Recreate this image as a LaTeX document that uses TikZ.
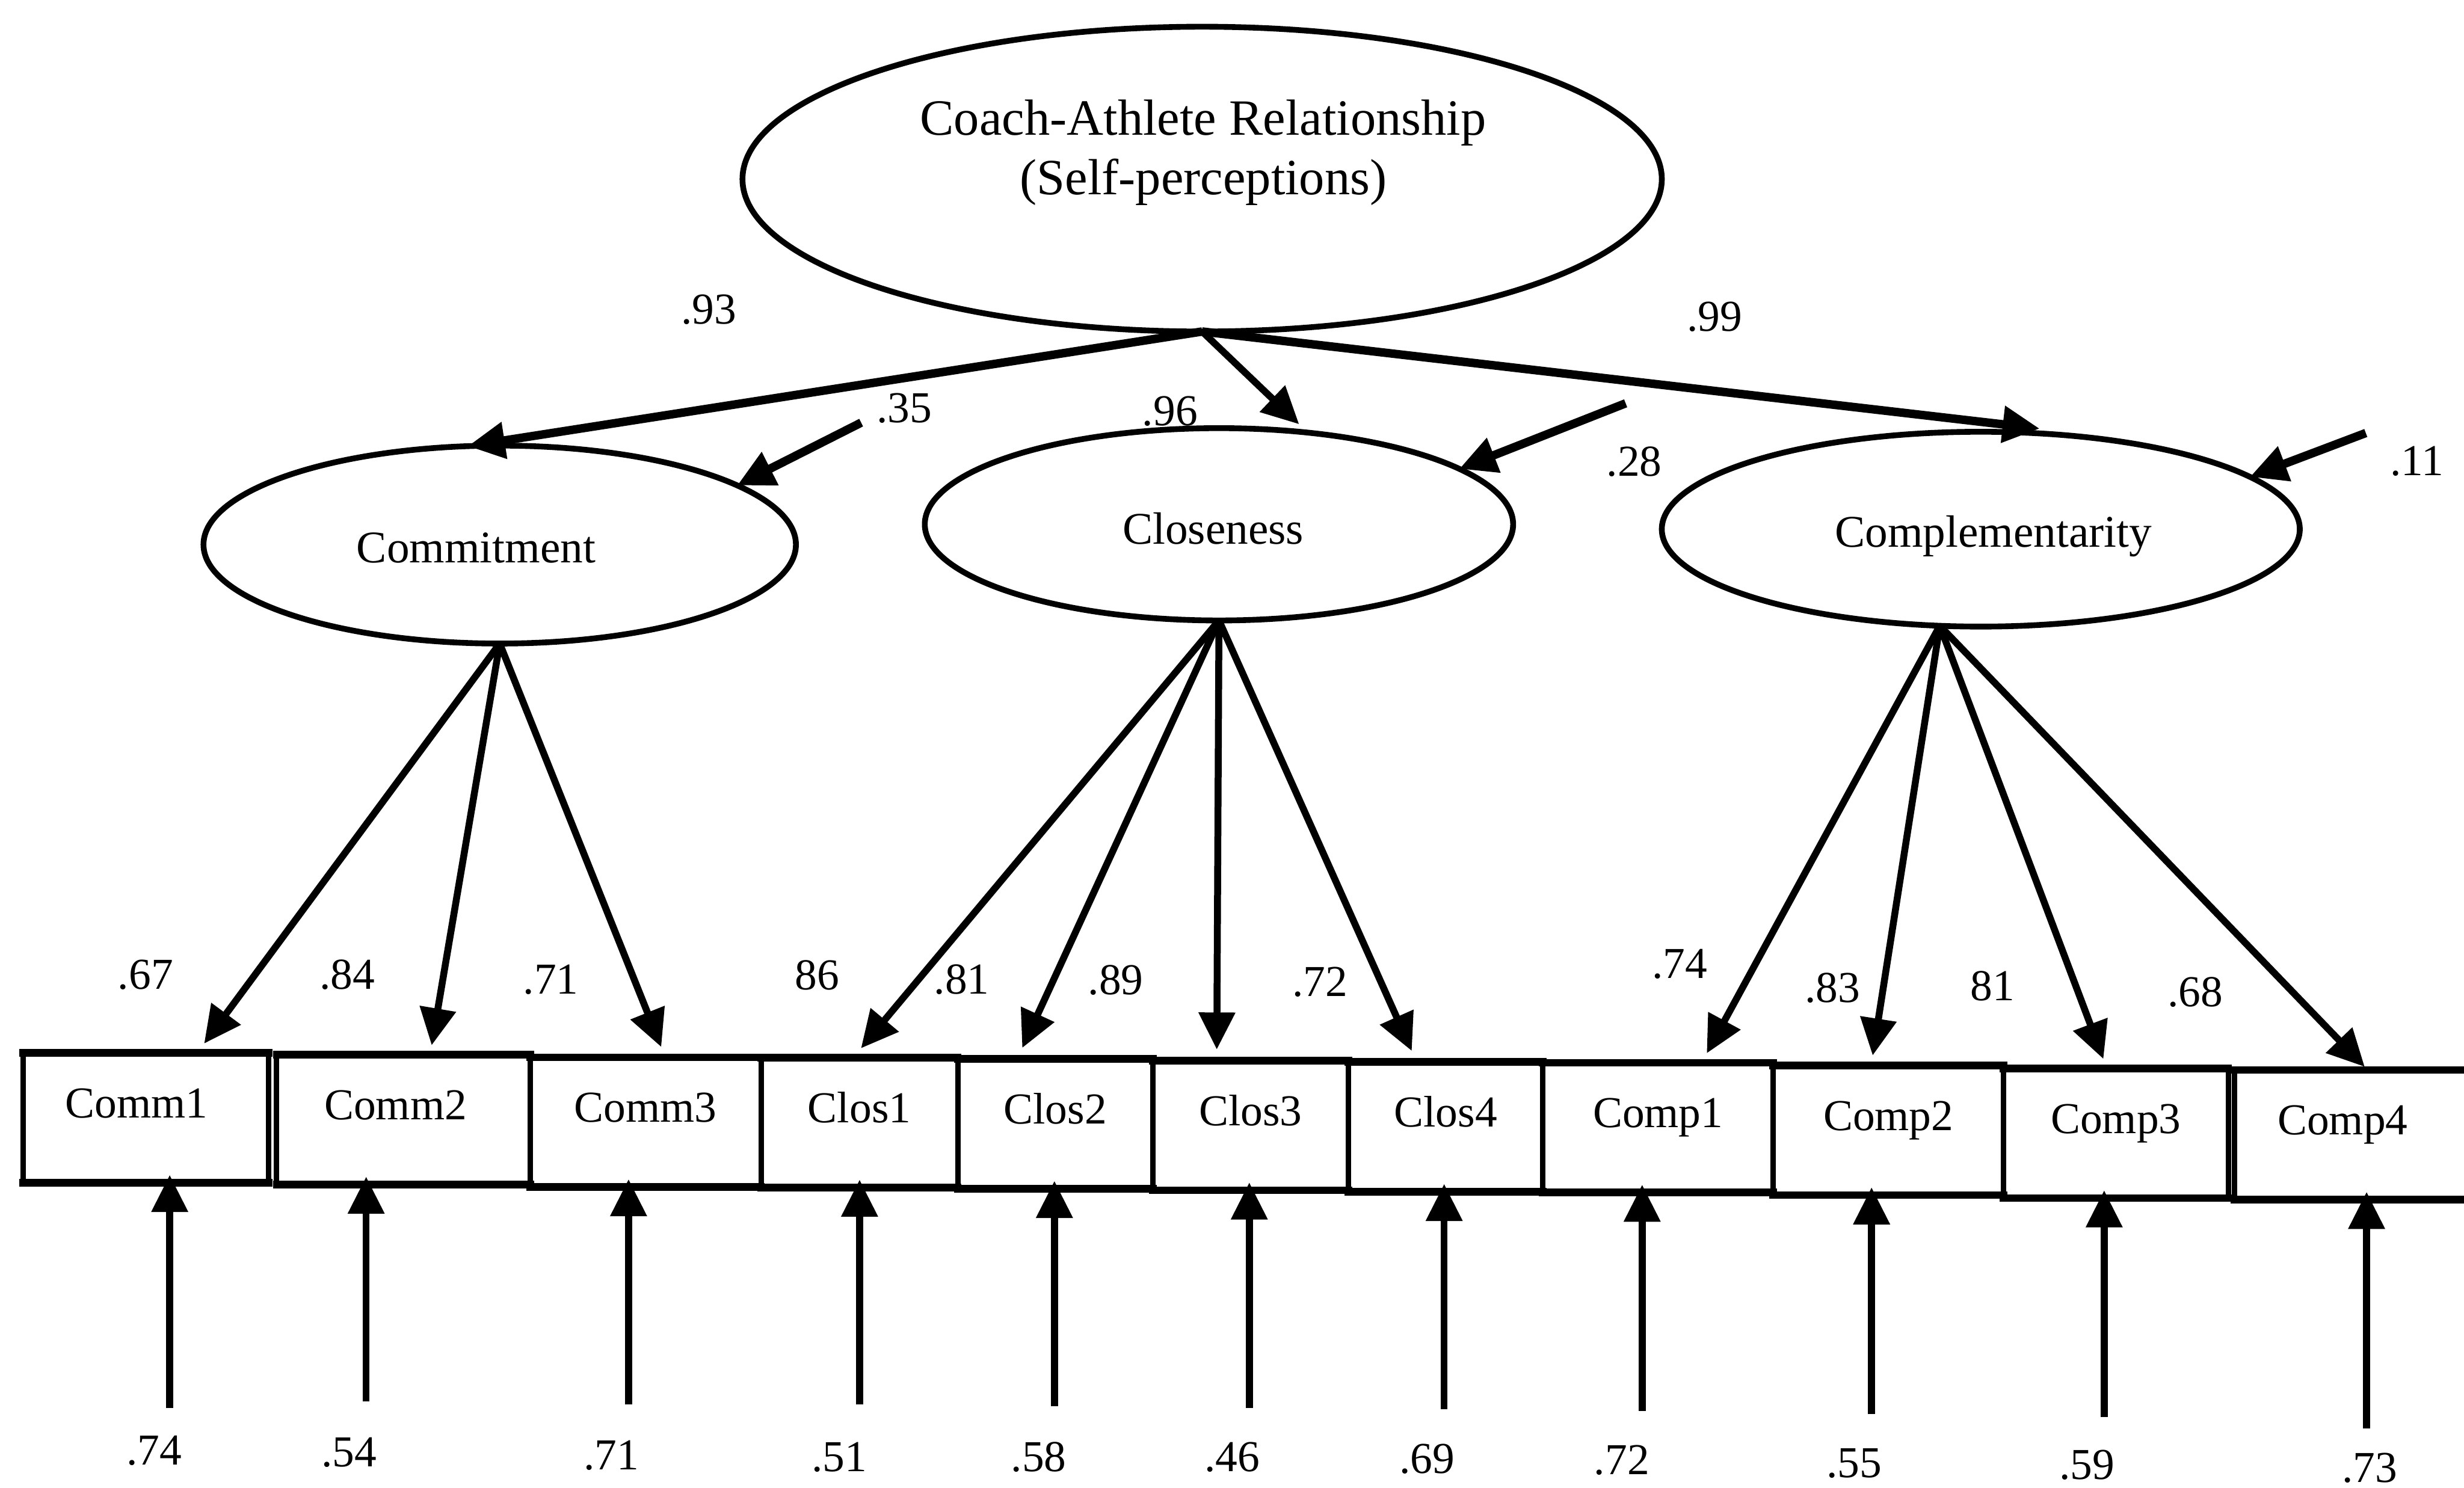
\documentclass[tikz,border=0pt]{standalone}
\usepackage{fontspec}
\setmainfont{Liberation Serif}
\usetikzlibrary{arrows.meta,shapes.geometric,calc}

\newcommand\cfsmall{\fontsize{20pt}{24pt}\selectfont}
\newcommand\cfmid{\fontsize{20.5pt}{24pt}\selectfont}
\newcommand\cfbig{\fontsize{23pt}{27pt}\selectfont}

\tikzset{
  latent/.style={draw, ellipse, line width=0.92mm, inner sep=0pt, outer sep=0pt},
  indicator/.style={draw, rectangle, line width=0.85mm, inner sep=0pt, outer sep=0pt,
    minimum height=20.65mm, text height=10.325mm, text depth=10.325mm, font=\cfsmall},
  rim/.style={line width=1.2mm, line cap=rect},
  val/.style={anchor=base, inner sep=0pt, outer sep=0pt, font=\cfsmall},
  tipshape/.style={-{Triangle[length=5.9mm,width=5.6mm]}},
  heavy/.style={line width=1.35mm, tipshape},
  load/.style={line width=1.1mm, tipshape},
}

\begin{document}
\begin{tikzpicture}[x=0.25mm, y=-0.25mm]
\useasboundingbox (0,0) rectangle (1568,947);

% latent variables
\node[latent, minimum width=146.25mm, minimum height=48.5mm] (car) at (765,114) {};
\node[latent, minimum width=94.25mm, minimum height=31.5mm] (com) at (318,346.6) {};
\node[latent, minimum width=93.6mm, minimum height=30.6mm] (clo) at (775.7,333.7) {};
\node[latent, minimum width=101.5mm, minimum height=31mm] (cmp) at (1260.5,336.8) {};

\node[val, font=\cfbig] (cart1) at (765.6,86) {Coach-Athlete Relationship};
\node[val, font=\cfbig] (cart2) at (765.8,124) {(Self-perceptions)};
\node[val, font=\cfmid] (comlbl) at (303,358) {Commitment};
\node[val, font=\cfmid] (clolbl) at (772,346.3) {Closeness};
\node[val, font=\cfmid] (cmplbl) at (1268.6,348.2) {Complementarity};

% observed indicators
\node[indicator, minimum width=39.05mm] (c1) at (92.9,711.5) {\hspace*{-3mm}Comm1};
\node[indicator, minimum width=40.33mm] (c2) at (256.7,712.6) {\hspace*{-2.5mm}Comm2};
\node[indicator, minimum width=36.75mm] (c3) at (410.8,714.2) {Comm3};
\node[indicator, minimum width=31.28mm] (k1) at (546.9,714.5) {Clos1};
\node[indicator, minimum width=31.03mm] (k2) at (671.5,715.3) {Clos2};
\node[indicator, minimum width=31.13mm] (k3) at (795.8,716.3) {Clos3};
\node[indicator, minimum width=30.95mm] (k4) at (919.9,717.2) {Clos4};
\node[indicator, minimum width=36.65mm] (p1) at (1055.1,717.7) {Comp1};
\node[indicator, minimum width=36.65mm] (p2) at (1201.7,719.4) {Comp2};
\node[indicator, minimum width=35.75mm] (p3) at (1346.5,721.3) {Comp3};
\node[indicator, minimum width=37.5mm] (p4) at (1496.8,722.3) {\hspace*{-3mm}Comp4};

\foreach \b in {c1,c2,c3,k1,k2,k3,k4,p1,p2,p3,p4}
  \draw[rim] (\b.north west) -- (\b.north east) (\b.south west) -- (\b.south east);

% second-order paths
\draw[heavy] (car.south) -- (com.108);
\draw[load] (car.south) -- ($(clo.north)+(51,-2.5)$);
\draw[heavy] (car.south) -- ($(cmp.north)+(37.5,-2)$);

% disturbances
\coordinate (u1) at (548,269);
\coordinate (u2) at (1034.5,256.7);
\coordinate (u3) at (1505.5,275.6);
\draw[heavy] (u1) -- (com.14);
\draw[heavy] (u2) -- (clo.13);
\draw[heavy] (u3) -- (cmp.11.5);

% factor loadings
\draw[load] (com.south) -- ($(c1.north)+(37,-6)$);
\draw[load] (com.south) -- ($(c2.north)+(18,-6)$);
\draw[load] (com.south) -- ($(c3.north)+(10,-6.5)$);
\draw[load] (clo.south) -- ($(k1.north)+(1,-6)$);
\draw[load] (clo.south) -- ($(k2.north)+(-21,-7)$);
\draw[load] (clo.south) -- ($(k3.north)+(-21.5,-7)$);
\draw[load] (clo.south) -- ($(k4.north)+(-21.5,-7)$);
\draw[load] (cmp.247) -- ($(p1.north)+(31,-6)$);
\draw[load] (cmp.247) -- ($(p2.north)+(-10,-6.3)$);
\draw[load] (cmp.247) -- ($(p3.north)+(-8,-6)$);
\draw[load] (cmp.247) -- ($(p4.north)+(8,-2)$);

% measurement errors
\coordinate (e1) at (108,896);
\coordinate (e2) at (233,892);
\coordinate (e3) at (400,894);
\coordinate (e4) at (547,894);
\coordinate (e5) at (671,895);
\coordinate (e6) at (795,896);
\coordinate (e7) at (919,897);
\coordinate (e8) at (1045,898);
\coordinate (e9) at (1191,900);
\coordinate (e10) at (1339,902);
\coordinate (e11) at (1506,909);
\foreach \e/\b in {e1/c1,e2/c2,e3/c3,e4/k1,e5/k2,e6/k3,e7/k4,e8/p1,e9/p2,e10/p3,e11/p4}
  \draw[load] (\e) -- ($(\e |- \b.south)+(0,-5)$);

% coefficients
\node[val] (g1) at (451,206.3) {.93};
\node[val] (g2) at (744.5,270.8) {.96};
\node[val] (g3) at (1091,210.6) {.99};
\node[val] (d1) at (575.5,269) {.35};
\node[val] (d2) at (1040,303) {.28};
\node[val] (d3) at (1538,302.7) {.11};

\node[val] (l1) at (92.6,629.4) {.67};
\node[val] (l2) at (221,629.4) {.84};
\node[val] (l3) at (350.5,632.5) {.71};
\node[val] (l4) at (520,630) {86};
\node[val] (l5) at (612,632.5) {.81};
\node[val] (l6) at (710,633) {.89};
\node[val] (l7) at (840,634.3) {.72};
\node[val] (l8) at (1069,622.7) {.74};
\node[val] (l9) at (1166,638) {.83};
\node[val] (l10) at (1268,636.8) {81};
\node[val] (l11) at (1397,640.5) {.68};

\node[val] (r1) at (98,932.2) {.74};
\node[val] (r2) at (222,933.4) {.54};
\node[val] (r3) at (389,935.3) {.71};
\node[val] (r4) at (534,936.5) {.51};
\node[val] (r5) at (661,936.5) {.58};
\node[val] (r6) at (784,936.5) {.46};
\node[val] (r7) at (908,937.7) {.69};
\node[val] (r8) at (1032,938.3) {.72};
\node[val] (r9) at (1180,940.2) {.55};
\node[val] (r10) at (1328,941.4) {.59};
\node[val] (r11) at (1508,943.5) {.73};
\end{tikzpicture}
\end{document}
